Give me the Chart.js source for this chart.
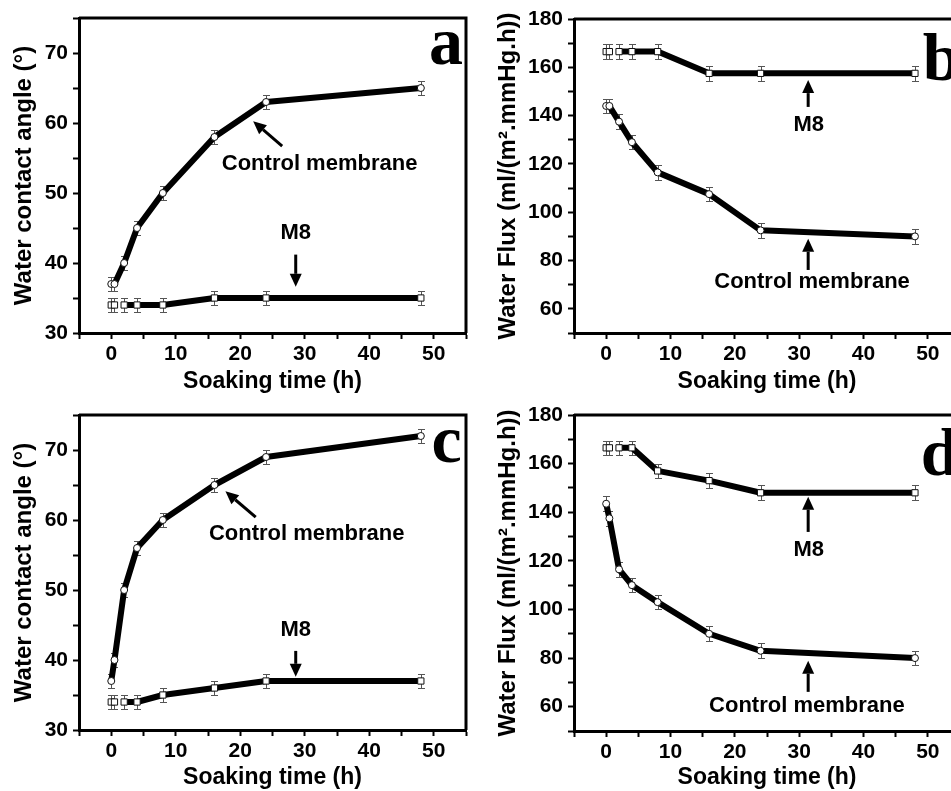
<!DOCTYPE html>
<html>
<head>
<meta charset="utf-8">
<script src="https://cdn.jsdelivr.net/npm/chart.js@4"></script>
<style>
  html, body { margin: 0; padding: 0; background: #fff; overflow: hidden; }
  body { width: 951px; height: 791px; position: relative; }
  canvas { position: absolute; }
</style>
</head>
<body>
<canvas id="chartA" width="475" height="395" style="left:0;top:0"></canvas>
<canvas id="chartB" width="500" height="395" style="left:476px;top:0"></canvas>
<canvas id="chartC" width="475" height="396" style="left:0;top:395px"></canvas>
<canvas id="chartD" width="500" height="396" style="left:476px;top:395px"></canvas>
<script>
// soaking time (h)
const soakTime = [0, 0.5, 2, 4, 8, 16, 24, 48];

// a: water contact angle (deg)
const angleControlA = [37, 37, 40, 45, 50, 58, 63, 65];
const angleM8A = [34, 34, 34, 34, 34, 35, 35, 35];
// b: water flux
const fluxControlB = [144, 144, 137.5, 129, 116.5, 107.5, 92.5, 90];
const fluxM8B = [166.5, 166.5, 166.5, 166.5, 166.5, 157.5, 157.5, 157.5];
// c: water contact angle (deg)
const angleControlC = [37, 40, 50, 56, 60, 65, 69, 72];
const angleM8C = [34, 34, 34, 34, 35, 36, 37, 37];
// d: water flux
const fluxControlD = [143.5, 137.5, 116.5, 110, 103, 90, 83, 80];
const fluxM8D = [166.5, 166.5, 166.5, 166.5, 157, 153, 148, 148];

// error bars (+/-)
const angleErr = [1, 1, 1, 1, 1, 1, 1, 1];
const fluxErr = [3, 3, 3, 3, 3, 3, 3, 3];

const SANS = "'Liberation Sans', Arial, sans-serif";
const SERIF = "'Liberation Serif', 'Times New Roman', serif";

function points(values, from) {
  return soakTime.map((t, i) => ({ x: t, y: values[i] })).slice(from || 0);
}

const errorBarPlugin = {
  id: 'errorBars',
  beforeDatasetsDraw(chart) {
    const { ctx, scales: { x, y } } = chart;
    ctx.save();
    ctx.strokeStyle = '#555';
    ctx.lineWidth = 1;
    chart.data.datasets.forEach(ds => {
      if (!ds.errorBars) return;
      ds.data.forEach((p, i) => {
        const px = Math.round(x.getPixelForValue(p.x)) + 0.5;
        const top = Math.round(y.getPixelForValue(p.y + ds.errorBars[i])) + 0.5;
        const bot = Math.round(y.getPixelForValue(p.y - ds.errorBars[i])) + 0.5;
        ctx.beginPath();
        ctx.moveTo(px, top); ctx.lineTo(px, bot);
        ctx.moveTo(px - 3.5, top); ctx.lineTo(px + 3.5, top);
        ctx.moveTo(px - 3.5, bot); ctx.lineTo(px + 3.5, bot);
        ctx.stroke();
      });
    });
    ctx.restore();
  }
};

function notesPlugin(notes) {
  return {
    id: 'notes',
    afterDatasetsDraw(chart) {
      const { ctx, chartArea, scales: { x, y } } = chart;
      ctx.save();
      // top and right frame
      ctx.strokeStyle = '#000';
      ctx.lineWidth = 3;
      ctx.beginPath();
      ctx.moveTo(chartArea.left, chartArea.top);
      ctx.lineTo(chartArea.right, chartArea.top);
      ctx.lineTo(chartArea.right, chartArea.bottom);
      ctx.stroke();

      notes.forEach(n => {
        if (n.arrow) {
          const x1 = x.getPixelForValue(n.arrow[0]), y1 = y.getPixelForValue(n.arrow[1]);
          const x2 = x.getPixelForValue(n.arrow[2]), y2 = y.getPixelForValue(n.arrow[3]);
          const ang = Math.atan2(y2 - y1, x2 - x1);
          const head = 13, half = 6;
          const bx = x2 - head * Math.cos(ang), by = y2 - head * Math.sin(ang);
          ctx.strokeStyle = '#000';
          ctx.fillStyle = '#000';
          ctx.lineWidth = 3;
          ctx.beginPath();
          ctx.moveTo(x1, y1);
          ctx.lineTo(bx, by);
          ctx.stroke();
          ctx.beginPath();
          ctx.moveTo(x2, y2);
          ctx.lineTo(bx + half * Math.sin(ang), by - half * Math.cos(ang));
          ctx.lineTo(bx - half * Math.sin(ang), by + half * Math.cos(ang));
          ctx.closePath();
          ctx.fill();
        } else if (n.letter) {
          ctx.fillStyle = '#000';
          ctx.font = 'bold 68px ' + SERIF;
          ctx.textAlign = n.align;
          ctx.textBaseline = 'alphabetic';
          ctx.fillText(n.letter, x.getPixelForValue(n.at[0]), y.getPixelForValue(n.at[1]));
        } else {
          ctx.fillStyle = '#000';
          ctx.font = 'bold 22px ' + SANS;
          ctx.textAlign = 'center';
          ctx.textBaseline = 'middle';
          ctx.fillText(n.text, x.getPixelForValue(n.at[0]), y.getPixelForValue(n.at[1]));
        }
      });
      ctx.restore();
    }
  };
}

function makePanel(id, p) {
  const ctx = document.getElementById(id).getContext('2d');
  return new Chart(ctx, {
    type: 'scatter',
    data: {
      datasets: [
        {
          data: points(p.control), errorBars: p.err, pointStyle: 'circle', pointRadius: 3.5,
          pointBackgroundColor: '#fff', pointBorderColor: '#111', pointBorderWidth: 1, order: 0
        },
        {
          data: points(p.m8), errorBars: p.err, pointStyle: 'rect', pointRadius: 4.4,
          pointBackgroundColor: '#fff', pointBorderColor: '#111', pointBorderWidth: 1, order: 0
        },
        {
          data: points(p.control, p.controlFrom), showLine: true, borderColor: '#000', borderWidth: 6,
          borderJoinStyle: 'round', pointRadius: 0, tension: 0, order: 1
        },
        {
          data: points(p.m8, p.m8From), showLine: true, borderColor: '#000', borderWidth: 6,
          borderJoinStyle: 'round', pointRadius: 0, tension: 0, order: 1
        }
      ]
    },
    options: {
      responsive: false,
      animation: false,
      devicePixelRatio: 1,
      layout: { padding: { top: p.padTop, right: p.padRight, left: 0, bottom: 0 } },
      plugins: { legend: { display: false }, tooltip: { enabled: false } },
      scales: {
        x: {
          type: 'linear', min: -5, max: 55,
          border: { color: '#000', width: 3 },
          grid: { drawOnChartArea: false, drawTicks: true, tickLength: 6, tickWidth: 2, tickColor: '#000' },
          ticks: {
            stepSize: 5, autoSkip: false, maxRotation: 0, padding: 3, color: '#000',
            font: { family: SANS, size: 21, weight: 'bold' },
            callback: v => (v % 10 === 0 && v >= 0 && v <= 50) ? v : ''
          },
          title: {
            display: true, text: 'Soaking time (h)', color: '#000',
            font: { family: SANS, size: 23, weight: 'bold' }, padding: { top: 0, bottom: 0 }
          },
          afterFit: s => { s.height = p.xHeight; }
        },
        y: {
          type: 'linear', min: p.yMin, max: p.yMax,
          border: { color: '#000', width: 3 },
          grid: { drawOnChartArea: false, drawTicks: true, tickLength: 6, tickWidth: 2, tickColor: '#000' },
          ticks: {
            stepSize: p.yStep, autoSkip: false, padding: 5, color: '#000',
            font: { family: SANS, size: 21, weight: 'bold' },
            callback: v => (v % p.yLabelStep === 0 && v >= p.yLabelMin) ? v : ''
          },
          title: {
            display: true, text: p.yTitle, color: '#000',
            font: { family: SANS, size: 24, weight: 'bold' }, padding: { top: p.yTitlePad, bottom: 0 }
          },
          afterFit: s => { s.width = p.yWidth; }
        }
      }
    },
    plugins: [errorBarPlugin, notesPlugin(p.notes)]
  });
}

makePanel('chartA', {
  control: angleControlA, m8: angleM8A, err: angleErr, controlFrom: 1, m8From: 2,
  yMin: 30, yMax: 75, yStep: 5, yLabelStep: 10, yLabelMin: 30,
  yTitle: 'Water contact angle (°)', yTitlePad: 10,
  yWidth: 79, xHeight: 62, padTop: 18, padRight: 9,
  notes: [
    { text: 'Control membrane', at: [32.3, 54.1] },
    { arrow: [26.5, 56.7, 22.0, 60.25] },
    { text: 'M8', at: [28.6, 44.3] },
    { arrow: [28.6, 41.2, 28.6, 36.6] },
    { letter: 'a', at: [51.9, 68.4], align: 'center' }
  ]
});

makePanel('chartB', {
  control: fluxControlB, m8: fluxM8B, err: fluxErr, controlFrom: 1, m8From: 2,
  yMin: 50, yMax: 180, yStep: 10, yLabelStep: 20, yLabelMin: 60,
  yTitle: 'Water Flux (ml/(m².mmHg.h))', yTitlePad: 18,
  yWidth: 98, xHeight: 62, padTop: 19, padRight: 16,
  notes: [
    { arrow: [31.4, 143.6, 31.4, 154.7] },
    { text: 'M8', at: [31.5, 136] },
    { arrow: [31.4, 76.1, 31.4, 89] },
    { text: 'Control membrane', at: [32, 71.2] },
    { letter: 'b', at: [49.2, 154.7], align: 'left' }
  ]
});

makePanel('chartC', {
  control: angleControlC, m8: angleM8C, err: angleErr, controlFrom: 0, m8From: 2,
  yMin: 30, yMax: 75, yStep: 5, yLabelStep: 10, yLabelMin: 30,
  yTitle: 'Water contact angle (°)', yTitlePad: 10,
  yWidth: 79, xHeight: 61, padTop: 20, padRight: 9,
  notes: [
    { text: 'Control membrane', at: [30.3, 58.0] },
    { arrow: [22.4, 60.4, 17.7, 64.1] },
    { text: 'M8', at: [28.6, 44.3] },
    { arrow: [28.6, 41.3, 28.6, 37.6] },
    { letter: 'c', at: [52.0, 68.25], align: 'center' }
  ]
});

makePanel('chartD', {
  control: fluxControlD, m8: fluxM8D, err: fluxErr, controlFrom: 0, m8From: 2,
  yMin: 50, yMax: 180, yStep: 10, yLabelStep: 20, yLabelMin: 60,
  yTitle: 'Water Flux (ml/(m².mmHg.h))', yTitlePad: 18,
  yWidth: 98, xHeight: 60, padTop: 20, padRight: 16,
  notes: [
    { arrow: [31.4, 131.9, 31.4, 146.4] },
    { text: 'M8', at: [31.5, 124.3] },
    { arrow: [31.4, 66.1, 31.4, 78.9] },
    { text: 'Control membrane', at: [31.2, 60.3] },
    { letter: 'd', at: [48.9, 155.3], align: 'left' }
  ]
});
</script>
</body>
</html>
